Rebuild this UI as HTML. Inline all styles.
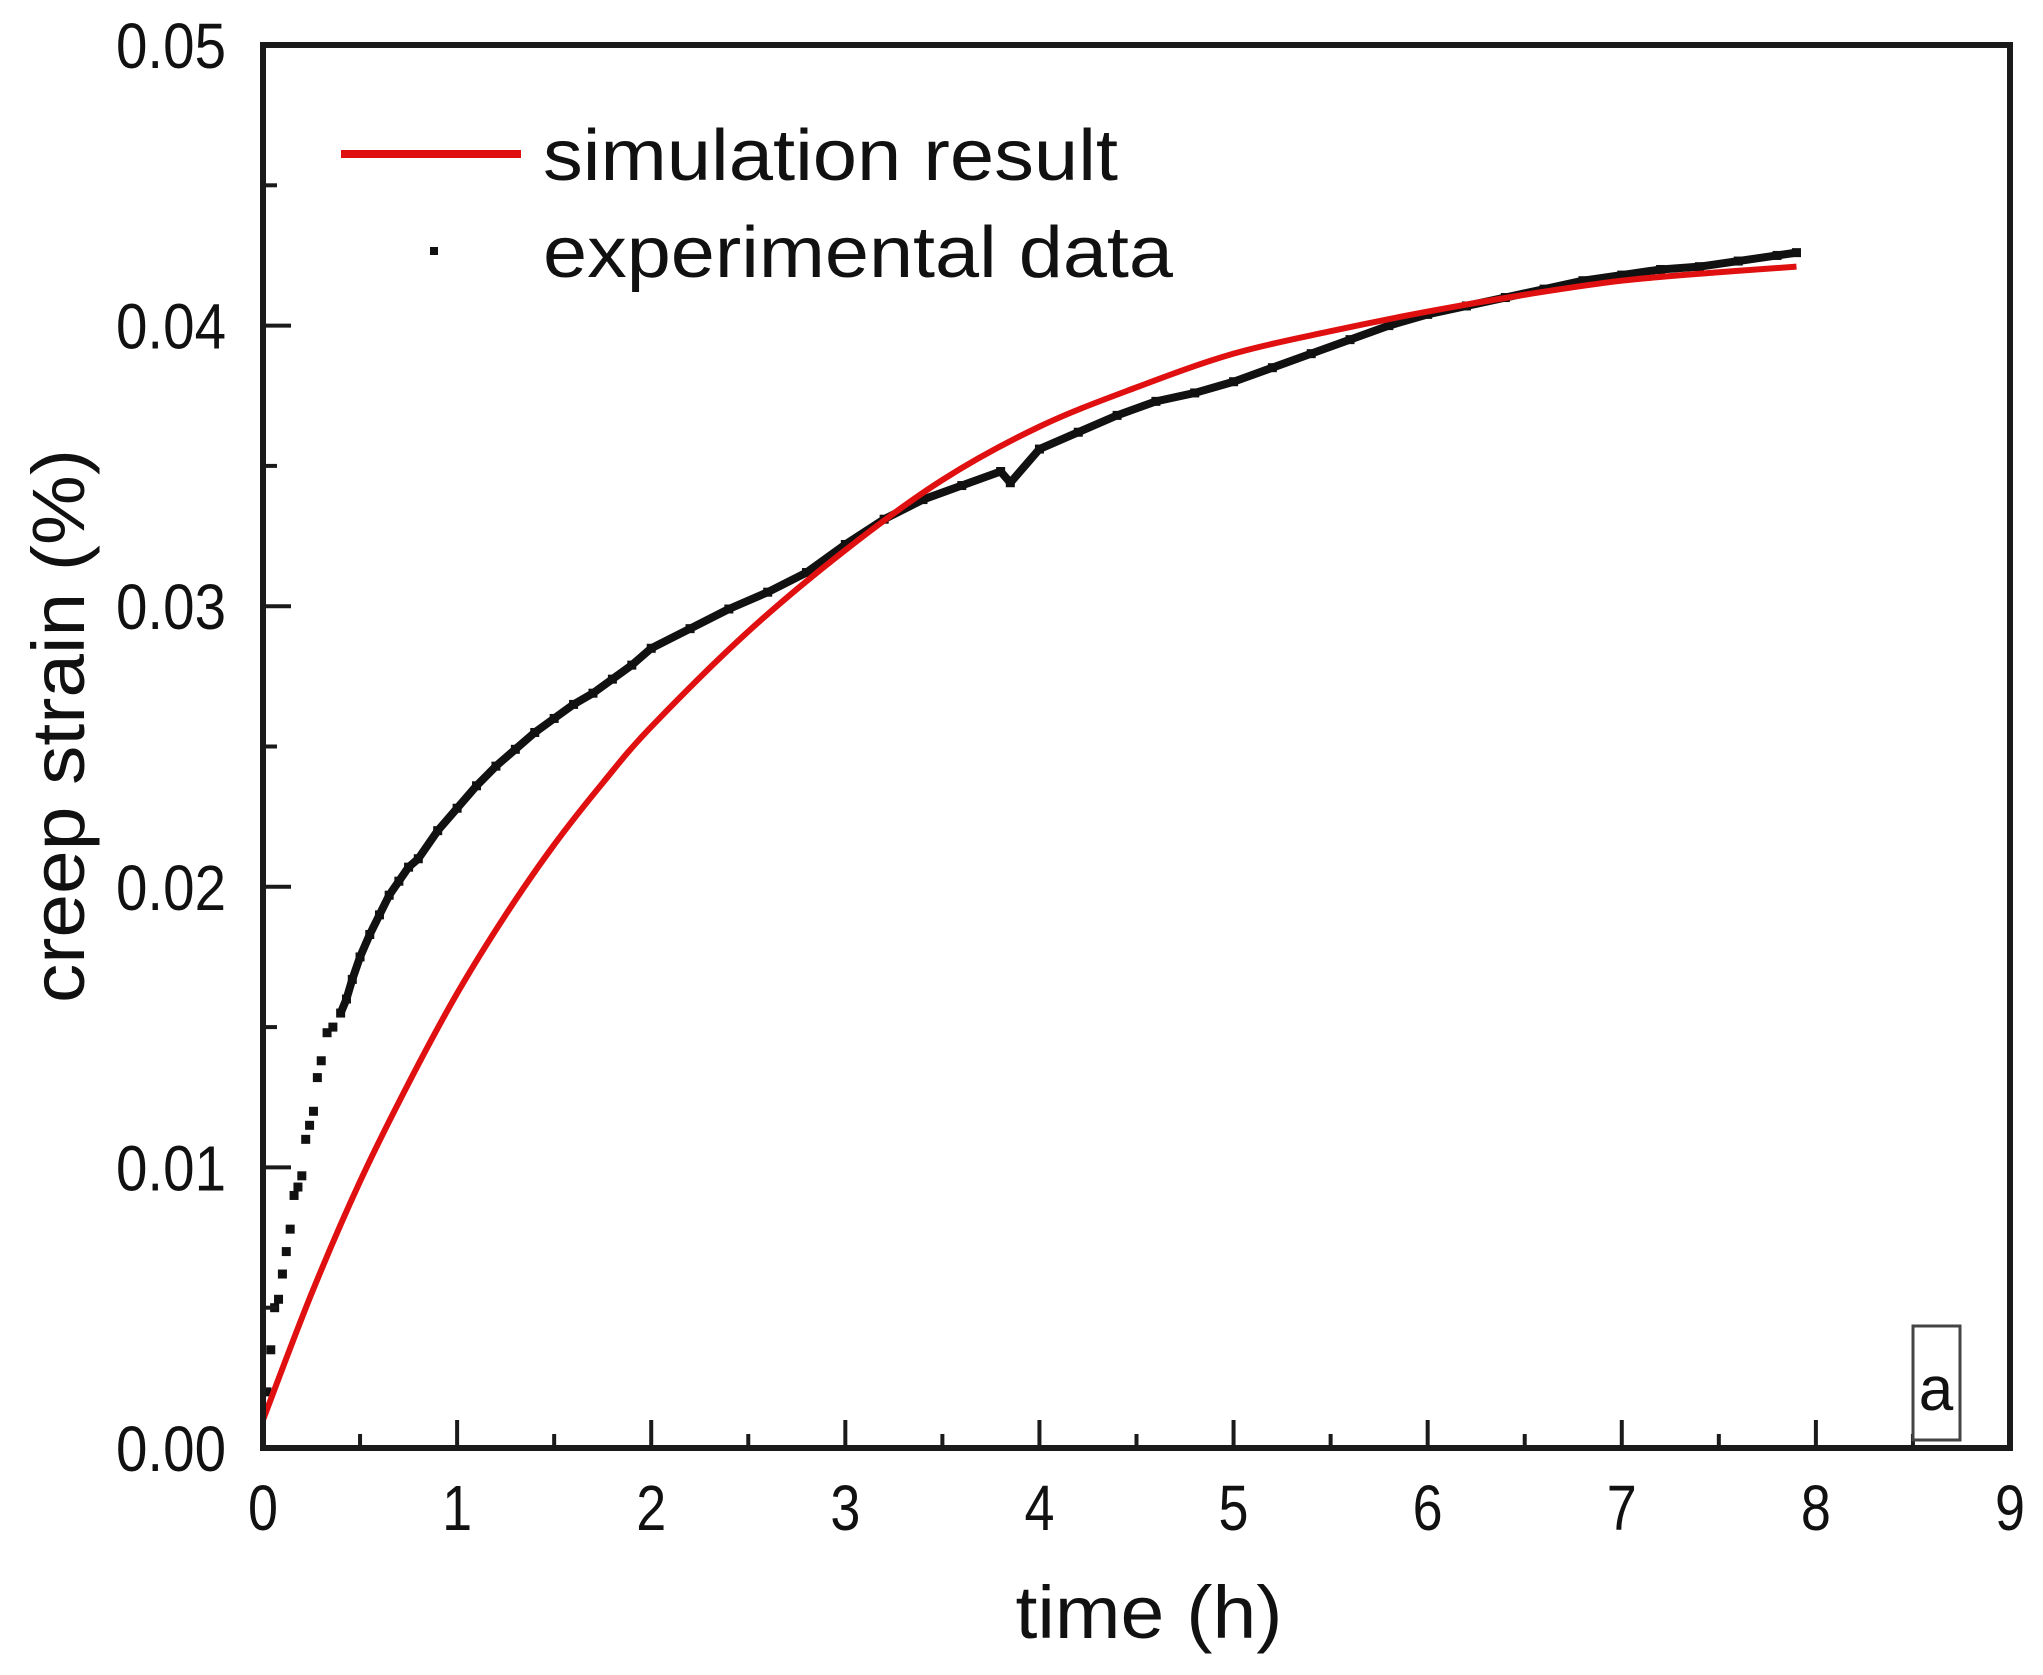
<!DOCTYPE html>
<html><head><meta charset="utf-8"><style>
html,body{margin:0;padding:0;background:#fff;}
svg{display:block;font-family:"Liberation Sans",sans-serif;}
</style></head><body>
<svg id="chart" width="2043" height="1675" viewBox="0 0 2043 1675" xmlns="http://www.w3.org/2000/svg">
<rect width="2043" height="1675" fill="#fff"/>
<g id="marks"></g>
<g id="axes"></g>
<rect x="263" y="45" width="1747" height="1403" fill="none" stroke="#1a1a1a" stroke-width="6"/>
<g>
<line x1="341" y1="154" x2="521" y2="154" stroke="#e01010" stroke-width="8"/>
<text x="543" y="180" font-size="72" textLength="575" lengthAdjust="spacingAndGlyphs" fill="#111">simulation result</text>
<rect x="430" y="247" width="8" height="8" fill="#111"/>
<text x="543" y="277" font-size="72" textLength="630" lengthAdjust="spacingAndGlyphs" fill="#111">experimental data</text>
</g>
<rect x="1913" y="1326" width="47" height="114" fill="#fff" stroke="#444" stroke-width="3"/>
<text x="1936" y="1410" font-size="62" text-anchor="middle" fill="#111">a</text>
<text x="1149" y="1638" font-size="74" text-anchor="middle" textLength="267" lengthAdjust="spacingAndGlyphs" fill="#111">time (h)</text>
<text transform="translate(84,726) rotate(-90)" font-size="74" text-anchor="middle" textLength="554" lengthAdjust="spacingAndGlyphs" fill="#111">creep strain (%)</text>
</svg>
<script>
const xTicks=[0,1,2,3,4,5,6,7,8,9];
const yTicks=[0,0.01,0.02,0.03,0.04,0.05];
const yTickLabels=["0.00","0.01","0.02","0.03","0.04","0.05"];
const simTime=[0,0.25,0.5,0.75,1,1.25,1.5,1.75,2,2.5,3,3.5,4,4.5,5,5.5,6,6.5,7,7.5,7.9];
const simStrain=[0.001,0.0055,0.0095,0.013,0.0162,0.019,0.0215,0.0237,0.0257,0.0291,0.0320,0.0345,0.0364,0.0378,0.0390,0.0398,0.0405,0.0411,0.0416,0.0419,0.0421];
const expTime=[0.02,0.04,0.06,0.08,0.1,0.12,0.14,0.16,0.18,0.2,0.22,0.24,0.26,0.28,0.3,0.33,0.36,0.4,0.43,0.46,0.5,0.55,0.6,0.65,0.7,0.75,0.8,0.9,1.0,1.1,1.2,1.3,1.4,1.5,1.6,1.7,1.8,1.9,2.0,2.2,2.4,2.6,2.8,3.0,3.2,3.4,3.6,3.8,3.85,4.0,4.2,4.4,4.6,4.8,5.0,5.2,5.4,5.6,5.8,6.0,6.2,6.4,6.6,6.8,7.0,7.2,7.4,7.6,7.8,7.9];
const expStrain=[0.002,0.0035,0.005,0.0053,0.0062,0.007,0.0078,0.009,0.0093,0.0097,0.011,0.0115,0.012,0.0132,0.0138,0.0148,0.015,0.0155,0.016,0.0167,0.0175,0.0183,0.019,0.0197,0.0202,0.0207,0.021,0.022,0.0228,0.0236,0.0243,0.0249,0.0255,0.026,0.0265,0.0269,0.0274,0.0279,0.0285,0.0292,0.0299,0.0305,0.0312,0.0322,0.0331,0.0338,0.0343,0.0348,0.0344,0.0356,0.0362,0.0368,0.0373,0.0376,0.0380,0.0385,0.0390,0.0395,0.0400,0.0404,0.0407,0.0410,0.0413,0.0416,0.0418,0.0420,0.0421,0.0423,0.0425,0.0426];
const X0=263,X1=2010,Y0=1448,Y1=45;
function sx(t){return X0+(t/9)*(X1-X0);}
function sy(v){return Y0-(v/0.05)*(Y0-Y1);}
const NS="http://www.w3.org/2000/svg";
const axes=document.getElementById('axes');
const marks=document.getElementById('marks');
function mk(tag,attrs,parent){const e=document.createElementNS(NS,tag);for(const k in attrs)e.setAttribute(k,attrs[k]);parent.appendChild(e);return e;}
xTicks.forEach((t,i)=>{
  const x=sx(t);
  const tk=mk('line',{x1:x,y1:Y0,x2:x,y2:Y0-28,stroke:'#1a1a1a','stroke-width':4},axes);
  
  
  if(i<xTicks.length-1){
    const m=mk('line',{x1:sx(t+0.5),y1:Y0,x2:sx(t+0.5),y2:Y0-14,stroke:'#1a1a1a','stroke-width':4},axes);
    
    
  }
  const lb=mk('text',{x:x,y:1530,'font-size':64,'text-anchor':'middle',textLength:30,lengthAdjust:'spacingAndGlyphs',fill:'#111'},axes);
  lb.textContent=String(t);
  
  
});
yTicks.forEach((v,i)=>{
  const y=sy(v);
  const tk=mk('line',{x1:X0,y1:y,x2:X0+28,y2:y,stroke:'#1a1a1a','stroke-width':4},axes);
  
  
  if(i<yTicks.length-1){
    const m=mk('line',{x1:X0,y1:sy(v+0.005),x2:X0+14,y2:sy(v+0.005),stroke:'#1a1a1a','stroke-width':4},axes);
    
    
  }
  const lb=mk('text',{x:226,y:y+23,'font-size':64,'text-anchor':'end',textLength:110,lengthAdjust:'spacingAndGlyphs',fill:'#111'},axes);
  lb.textContent=yTickLabels[i];
  
  
});
let d='';
expTime.forEach((t,i)=>{ if(t>=0.4){d+=(d?'L':'M')+sx(t)+' '+sy(expStrain[i]);} });
const ep=mk('path',{d:d,fill:'none',stroke:'#111','stroke-width':8,'stroke-linejoin':'round'},marks);


expTime.forEach((t,i)=>{
  const r=mk('rect',{x:sx(t)-4.5,y:sy(expStrain[i])-4.5,width:9,height:9,fill:'#111'},marks);
  
  
});
const pts=simTime.map((t,i)=>[sx(t),sy(simStrain[i])]);
let s='M'+pts[0][0]+' '+pts[0][1];
for(let i=0;i<pts.length-1;i++){
  const p0=pts[Math.max(0,i-1)],p1=pts[i],p2=pts[i+1],p3=pts[Math.min(pts.length-1,i+2)];
  s+='C'+(p1[0]+(p2[0]-p0[0])/6)+' '+(p1[1]+(p2[1]-p0[1])/6)+' '+(p2[0]-(p3[0]-p1[0])/6)+' '+(p2[1]-(p3[1]-p1[1])/6)+' '+p2[0]+' '+p2[1];
}
const sp=mk('path',{d:s,fill:'none',stroke:'#e01010','stroke-width':6},marks);


</script>
</body></html>
